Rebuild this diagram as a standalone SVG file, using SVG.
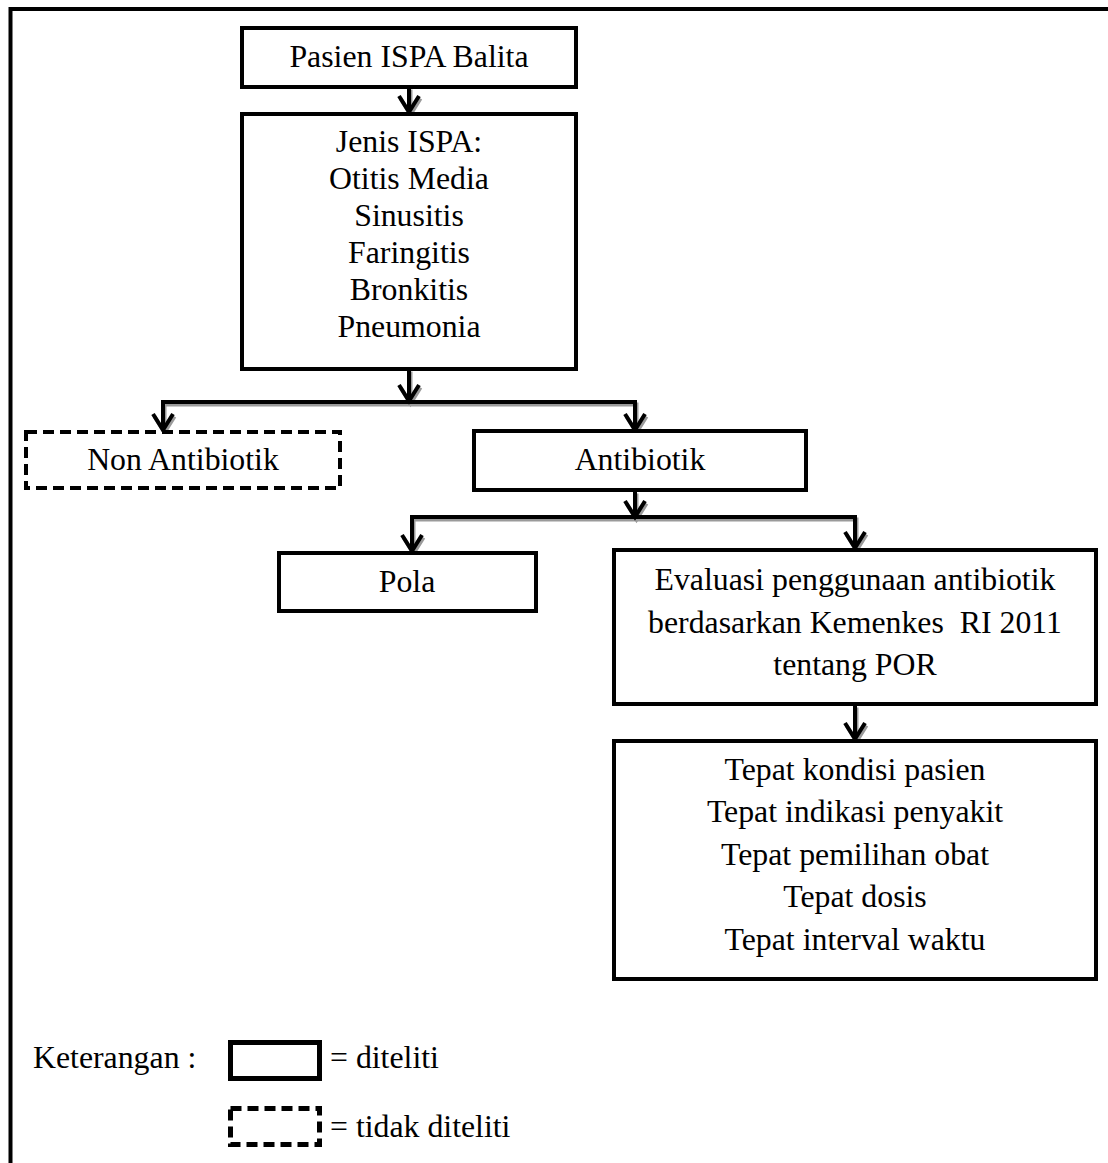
<svg xmlns="http://www.w3.org/2000/svg" width="1108" height="1163" viewBox="0 0 1108 1163">
<style>
.box{fill:#fff;stroke:#000;stroke-width:4}
.dash{fill:#fff;stroke:#000;stroke-width:4;stroke-dasharray:11 6}
.t{font-family:"Liberation Serif","Times New Roman",serif;font-size:31.8px;fill:#000;text-anchor:middle}
.tl{font-family:"Liberation Serif","Times New Roman",serif;font-size:31.8px;fill:#000}
.c{fill:none;stroke-width:4;stroke-linejoin:miter;stroke-linecap:butt}
</style>
<rect width="1108" height="1163" fill="#fff"/>
<g id="frame">
<path d="M10.5 1163 V9 H1108" fill="none" stroke="#000" stroke-width="4"/>
</g>
<g id="connectors">
<g class="c" stroke="#9a9a9a" transform="translate(1.5,2.5)">
<path d="M409 87 V112 M399 96 L409 112 L419 96"/>
<path d="M409 369 V401 M399 385 L409 401 L419 385"/>
<path d="M163 430 V402 H635 V430 M153 414 L163 430 L173 414 M625 414 L635 430 L645 414"/>
<path d="M635 491 V517 M625 501 L635 517 L645 501"/>
<path d="M412 551 V517 H855 V548 M402 535 L412 551 L422 535 M845 532 L855 548 L865 532"/>
<path d="M855 705 V739 M845 723 L855 739 L865 723"/>
</g>
<g class="c" stroke="#000">
<path d="M409 87 V112 M399 96 L409 112 L419 96"/>
<path d="M409 369 V401 M399 385 L409 401 L419 385"/>
<path d="M163 430 V402 H635 V430 M153 414 L163 430 L173 414 M625 414 L635 430 L645 414"/>
<path d="M635 491 V517 M625 501 L635 517 L645 501"/>
<path d="M412 551 V517 H855 V548 M402 535 L412 551 L422 535 M845 532 L855 548 L865 532"/>
<path d="M855 705 V739 M845 723 L855 739 L865 723"/>
</g>
</g>
<g id="pasien">
<rect class="box" x="242" y="28" width="334" height="59"/>
<text class="t" x="409" y="67">Pasien ISPA Balita</text>
</g>
<g id="jenis">
<rect class="box" x="242" y="114" width="334" height="255"/>
<text class="t" x="409" y="152">Jenis ISPA:</text>
<text class="t" x="409" y="189">Otitis Media</text>
<text class="t" x="409" y="226">Sinusitis</text>
<text class="t" x="409" y="263">Faringitis</text>
<text class="t" x="409" y="300">Bronkitis</text>
<text class="t" x="409" y="337">Pneumonia</text>
</g>
<g id="non-antibiotik">
<rect class="dash" x="26" y="432" width="314" height="56"/>
<text class="t" x="183" y="470">Non Antibiotik</text>
</g>
<g id="antibiotik">
<rect class="box" x="474" y="431" width="332" height="59"/>
<text class="t" x="640" y="470">Antibiotik</text>
</g>
<g id="pola">
<rect class="box" x="279" y="553" width="257" height="58"/>
<text class="t" x="407" y="592">Pola</text>
</g>
<g id="evaluasi">
<rect class="box" x="614" y="550" width="482" height="154"/>
<text class="t" x="855" y="590">Evaluasi penggunaan antibiotik</text>
<text class="t" x="855" y="633" xml:space="preserve">berdasarkan Kemenkes  RI 2011</text>
<text class="t" x="855" y="675">tentang POR</text>
</g>
<g id="tepat">
<rect class="box" x="614" y="741" width="482" height="238"/>
<text class="t" x="855" y="780">Tepat kondisi pasien</text>
<text class="t" x="855" y="822">Tepat indikasi penyakit</text>
<text class="t" x="855" y="865">Tepat pemilihan obat</text>
<text class="t" x="855" y="907">Tepat dosis</text>
<text class="t" x="855" y="950">Tepat interval waktu</text>
</g>
<g id="legend">
<text class="tl" x="33" y="1068">Keterangan :</text>
<rect x="230.5" y="1042.5" width="89" height="36" fill="#fff" stroke="#000" stroke-width="5"/>
<text class="tl" x="330" y="1068">= diteliti</text>
<rect x="230.5" y="1108.5" width="89" height="36" fill="#fff" stroke="#000" stroke-width="5" stroke-dasharray="11 6"/>
<text class="tl" x="330" y="1137">= tidak diteliti</text>
</g>
</svg>
